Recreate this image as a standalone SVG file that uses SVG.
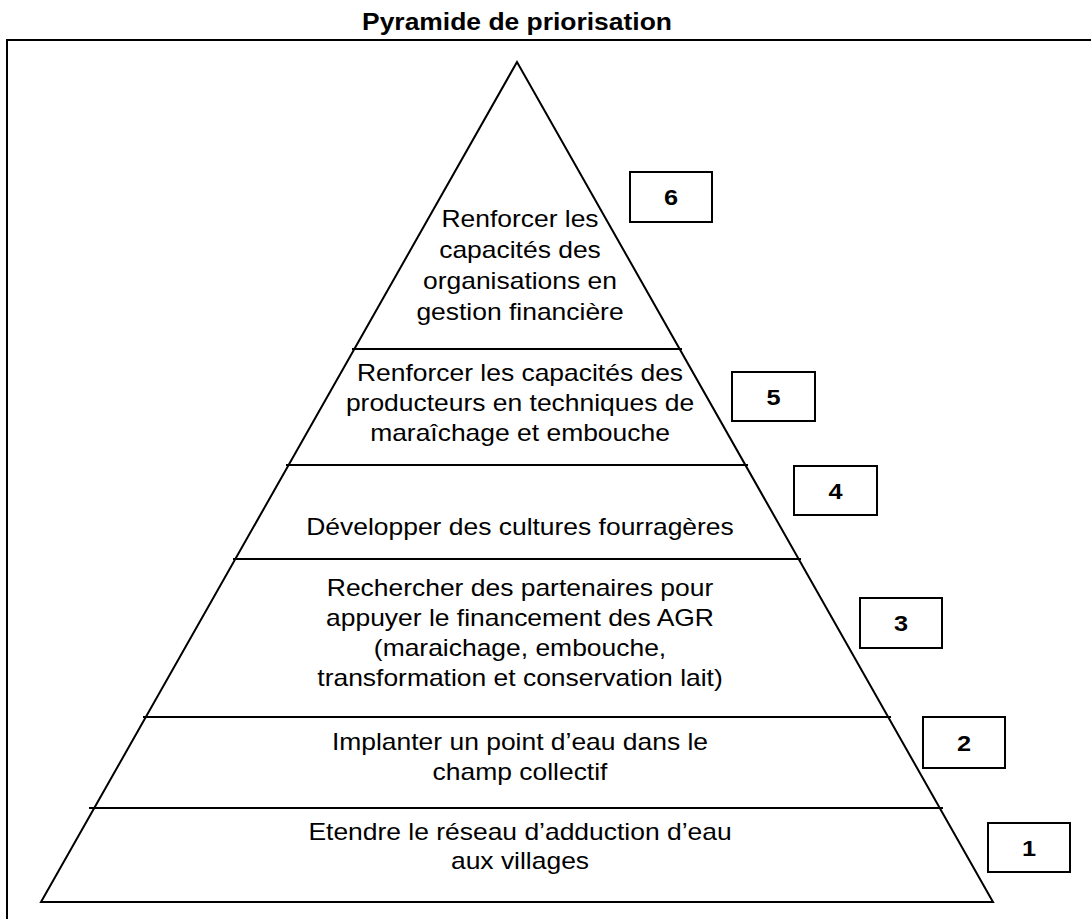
<svg xmlns="http://www.w3.org/2000/svg" width="1091" height="919" viewBox="0 0 1091 919">
<style>
.bg{fill:#fff}
.frame{fill:none;stroke:#000;stroke-width:2}
.edge{fill:none;stroke:#000;stroke-width:2;stroke-linejoin:miter}
.sep{stroke:#000;stroke-width:2}
.box{fill:#fff;stroke:#000;stroke-width:2}
.t{font-family:"Liberation Sans",Arial,sans-serif;font-size:23px;fill:#000;text-anchor:middle}
.n{font-family:"Liberation Sans",Arial,sans-serif;font-size:22px;font-weight:bold;fill:#000;text-anchor:middle}
.title{font-family:"Liberation Sans",Arial,sans-serif;font-size:23px;font-weight:bold;fill:#000;text-anchor:middle}
</style>
<rect class="bg" x="0" y="0" width="1091" height="919"/>
<text class="title" transform="translate(517,30) scale(1.15,1)">Pyramide de priorisation</text>
<path class="frame" d="M7,920 V40 H1092"/>
<g id="pyramid">
<polygon class="edge" points="517,62 41,902 993,902"/>
</g>
<g id="connectors">
<line class="sep" x1="352" y1="349" x2="682" y2="349"/>
<line class="sep" x1="286" y1="465" x2="748" y2="465"/>
<line class="sep" x1="233" y1="559" x2="801" y2="559"/>
<line class="sep" x1="143" y1="717" x2="891" y2="717"/>
<line class="sep" x1="89" y1="808" x2="943" y2="808"/>
</g>
<g id="tier6">
<text class="t" transform="translate(520,226.5) scale(1.15,1)">Renforcer les</text>
<text class="t" transform="translate(520,257.7) scale(1.15,1)">capacités des</text>
<text class="t" transform="translate(520,288.9) scale(1.15,1)">organisations en</text>
<text class="t" transform="translate(520,320) scale(1.15,1)">gestion financière</text>
</g>
<g id="tier5">
<text class="t" transform="translate(520,381) scale(1.15,1)">Renforcer les capacités des</text>
<text class="t" transform="translate(520,411) scale(1.15,1)">producteurs en techniques de</text>
<text class="t" transform="translate(520,441) scale(1.15,1)">maraîchage et embouche</text>
</g>
<g id="tier4">
<text class="t" transform="translate(520,535) scale(1.15,1)">Développer des cultures fourragères</text>
</g>
<g id="tier3">
<text class="t" transform="translate(520,596) scale(1.15,1)">Rechercher des partenaires pour</text>
<text class="t" transform="translate(520,626) scale(1.15,1)">appuyer le financement des AGR</text>
<text class="t" transform="translate(520,656) scale(1.15,1)">(maraichage, embouche,</text>
<text class="t" transform="translate(520,686) scale(1.15,1)">transformation et conservation lait)</text>
</g>
<g id="tier2">
<text class="t" transform="translate(520,750) scale(1.15,1)">Implanter un point d’eau dans le</text>
<text class="t" transform="translate(520,780) scale(1.15,1)">champ collectif</text>
</g>
<g id="tier1">
<text class="t" transform="translate(520,840) scale(1.15,1)">Etendre le réseau d’adduction d’eau</text>
<text class="t" transform="translate(520,869) scale(1.15,1)">aux villages</text>
</g>
<g id="box6">
<rect class="box" x="630" y="172" width="82" height="50"/>
<text class="n" transform="translate(671,205) scale(1.15,1)">6</text>
</g>
<g id="box5">
<rect class="box" x="732" y="372" width="83" height="49"/>
<text class="n" transform="translate(773.5,405) scale(1.15,1)">5</text>
</g>
<g id="box4">
<rect class="box" x="794" y="466" width="83" height="49"/>
<text class="n" transform="translate(835.5,499) scale(1.15,1)">4</text>
</g>
<g id="box3">
<rect class="box" x="860" y="598" width="82" height="50"/>
<text class="n" transform="translate(901,631) scale(1.15,1)">3</text>
</g>
<g id="box2">
<rect class="box" x="923" y="717" width="82" height="51"/>
<text class="n" transform="translate(964,751) scale(1.15,1)">2</text>
</g>
<g id="box1">
<rect class="box" x="988" y="823" width="82" height="49"/>
<text class="n" transform="translate(1029,856) scale(1.15,1)">1</text>
</g>
</svg>
